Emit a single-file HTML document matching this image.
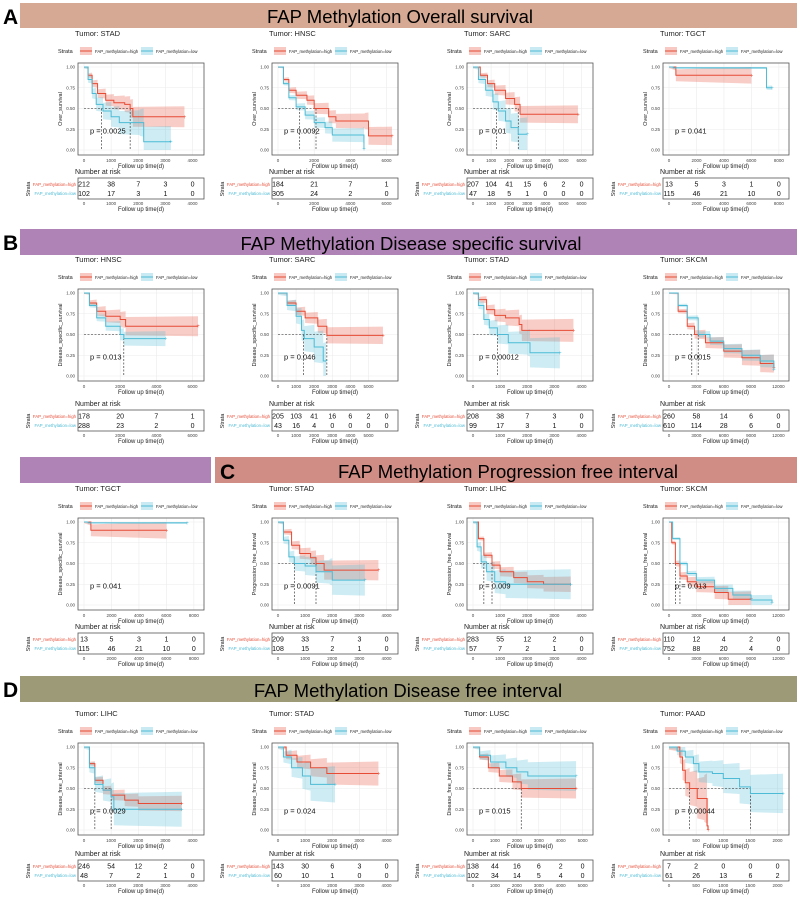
<!DOCTYPE html>
<html><head><meta charset="utf-8">
<style>
html,body{margin:0;padding:0;background:#fff;}
svg{display:block;font-family:"Liberation Sans",sans-serif;}
</style></head>
<body>
<div id="c"></div>
<script>
var R='#e64b35',B='#4dbbd5';
var X=[78,272,467,663],W=126,H=92;
var PT=[63,289,518,743],TT=[178,410,633,860];
var P=[
[0,0,'STAD','Over_survival',4200,[0,1000,2000,3000,4000],'0.0025',[650,1700],
 [[0,1],[150,.9],[300,.8],[500,.68],[800,.6],[1100,.57],[1500,.55],[1700,.5],[1800,.4],[3700,.4]],
 [[0,1],[150,.85],[300,.68],[450,.55],[700,.47],[1000,.4],[1300,.33],[2050,.33],[2200,.1],[3200,.1]],[.08,.12],
 [[212,38,7,3,0],[102,17,3,1,0]]],
[0,1,'HNSC','Over_survival',6300,[0,2000,4000,6000],'0.0092',[1200,2100],
 [[0,1],[300,.85],[600,.72],[1000,.66],[1600,.6],[2000,.5],[2800,.4],[3200,.35],[4800,.35],[5000,.17],[6300,.17]],
 [[0,1],[300,.8],[600,.63],[1000,.52],[1500,.42],[2000,.33],[2600,.27],[3000,.18],[4700,.18],[4750,.01]],[.07,.06],
 [[184,21,7,1],[305,24,2,0]]],
[0,2,'SARC','Over_survival',6300,[0,1000,2000,3000,4000,5000,6000],'0.01',[1300,2500],
 [[0,1],[400,.9],[800,.8],[1200,.72],[1800,.62],[2300,.55],[2600,.43],[5800,.43]],
 [[0,1],[300,.85],[700,.72],[1100,.58],[1400,.47],[1800,.35],[2100,.27],[2500,.19],[3000,.19]],[.07,.13],
 [[207,104,41,15,6,2,0],[47,18,5,1,0,0,0]]],
[0,3,'TGCT','Over_survival',8300,[0,2000,4000,6000,8000],'0.041',[],
 [[0,1],[500,.9],[6000,.9]],[[0,1],[300,.99],[7000,.99],[7100,.75],[7500,.75]],[.09,.02],
 [[13,5,3,1,0],[115,46,21,10,0]]],
[1,0,'HNSC','Disease_specific_survival',6300,[0,2000,4000,6000],'0.013',[2200],
 [[0,1],[300,.88],[700,.78],[1200,.72],[2000,.68],[2300,.6],[6300,.6]],
 [[0,1],[300,.85],[700,.7],[1200,.6],[2000,.5],[2200,.45],[4500,.45]],[.08,.06],
 [[178,20,7,1],[288,23,2,0]]],
[1,1,'SARC','Disease_specific_survival',6300,[0,1000,2000,3000,4000,5000],'0.046',[1400,2700],
 [[0,1],[500,.88],[1000,.78],[1500,.7],[2200,.6],[2700,.49],[5800,.49]],
 [[0,1],[500,.85],[1000,.72],[1300,.55],[1450,.45],[2000,.35],[2500,.18],[2650,.18]],[.07,.15],
 [[205,103,41,16,6,2,0],[43,16,4,0,0,0,0]]],
[1,2,'STAD','Disease_specific_survival',4200,[0,1000,2000,3000,4000],'0.00012',[900],
 [[0,1],[200,.92],[500,.8],[800,.73],[1200,.7],[1700,.62],[1800,.55],[3700,.55]],
 [[0,1],[200,.85],[400,.68],[600,.58],[900,.5],[1300,.4],[2000,.4],[2100,.28],[3200,.28]],[.09,.12],
 [[208,38,7,3,0],[99,17,3,1,0]]],
[1,3,'SKCM','Disease_specific_survival',12500,[0,3000,6000,9000,12000],'0.0015',[2500,3200],
 [[0,1],[1000,.78],[2000,.6],[2800,.5],[4000,.4],[6000,.3],[8000,.22],[10000,.15],[11500,.1]],
 [[0,1],[1000,.85],[2000,.7],[3200,.5],[4500,.42],[6000,.33],[8000,.25],[10000,.18],[11500,.08]],[.07,.05],
 [[260,58,14,6,0],[610,114,28,6,0]]],
[2,0,'TGCT','Disease_specific_survival',8300,[0,2000,4000,6000,8000],'0.041',[],
 [[0,1],[500,.9],[6000,.9]],[[0,1],[300,.99],[7500,.99]],[.09,.01],
 [[13,5,3,1,0],[115,46,21,10,0]]],
[2,1,'STAD','Progression_free_interval',4200,[0,1000,2000,3000,4000],'0.0091',[600,1400],
 [[0,1],[200,.88],[500,.72],[800,.62],[1200,.57],[1400,.5],[1700,.42],[3700,.42]],
 [[0,1],[200,.78],[400,.58],[600,.5],[1000,.47],[1400,.4],[1900,.4],[2000,.3],[3200,.3]],[.08,.12],
 [[209,33,7,3,0],[108,15,2,1,0]]],
[2,2,'LIHC','Progression_free_interval',4200,[0,1000,2000,3000,4000],'0.009',[400,700],
 [[0,1],[200,.8],[400,.6],[700,.48],[1000,.4],[1500,.33],[2000,.28],[2600,.25],[3600,.25]],
 [[0,1],[150,.7],[300,.52],[500,.4],[800,.28],[1200,.25],[3600,.25]],[.06,.12],
 [[283,55,12,2,0],[57,7,2,1,0]]],
[2,3,'SKCM','Progression_free_interval',12500,[0,3000,6000,9000,12000],'0.013',[700,1200],
 [[0,1],[300,.75],[700,.5],[1200,.35],[2000,.28],[3000,.22],[5000,.15],[6500,.07],[9000,.07]],
 [[0,1],[400,.8],[1200,.5],[2000,.38],[3000,.3],[5000,.2],[7000,.12],[9000,.06],[11300,.03]],[.06,.04],
 [[110,12,4,2,0],[752,88,20,4,0]]],
[3,0,'LIHC','Disease_free_interval',4200,[0,1000,2000,3000,4000],'0.0029',[400,1000],
 [[0,1],[200,.8],[400,.6],[700,.48],[1000,.42],[1500,.36],[2000,.32],[3600,.32]],
 [[0,1],[200,.75],[400,.55],[700,.48],[1000,.4],[1100,.25],[3600,.25]],[.06,.14],
 [[246,54,12,2,0],[48,7,2,1,0]]],
[3,1,'STAD','Disease_free_interval',4200,[0,1000,2000,3000,4000],'0.024',[],
 [[0,1],[300,.9],[700,.82],[1200,.75],[1800,.68],[3700,.68]],
 [[0,1],[200,.88],[500,.75],[900,.65],[1200,.55],[2100,.55]],[.1,.15],
 [[143,30,6,3,0],[60,10,1,0,0]]],
[3,2,'LUSC','Disease_free_interval',5200,[0,1000,2000,3000,4000,5000],'0.015',[2200],
 [[0,1],[300,.88],[700,.75],[1200,.65],[1800,.58],[2200,.5],[4700,.5]],
 [[0,1],[300,.9],[800,.82],[1500,.75],[2000,.7],[2500,.65],[4700,.65]],[.08,.12],
 [[138,44,16,6,2,0],[102,34,14,5,4,0]]],
[3,3,'PAAD','Disease_free_interval',2100,[0,500,1000,1500,2000],'0.00044',[380,1500],
 [[0,1],[200,.88],[250,.72],[300,.57],[380,.5],[520,.38],[650,.38],[700,.05],[720,0]],
 [[0,1],[150,.95],[300,.88],[450,.8],[550,.7],[800,.68],[1000,.62],[1300,.52],[1500,.44],[2100,.44]],[.22,.15],
 [[7,2,0,0,0],[61,26,13,6,2]]]
];
var out='<svg width="799" height="899" viewBox="0 0 799 899" xmlns="http://www.w3.org/2000/svg">';
out+='<rect x="20" y="3" width="777" height="25" fill="#d5a993"/><text x="3" y="24" font-size="21" font-weight="bold">A</text><text x="400" y="23" font-size="18.5" text-anchor="middle">FAP Methylation Overall  survival</text>';
out+='<rect x="20" y="229" width="777" height="26" fill="#b083b6"/><text x="3" y="250" font-size="21" font-weight="bold">B</text><text x="411" y="250" font-size="18.5" text-anchor="middle">FAP Methylation Disease specific  survival</text>';
out+='<rect x="20" y="457" width="191" height="26" fill="#b083b6"/><rect x="215" y="457" width="582" height="26" fill="#cf8d85"/><text x="220" y="479" font-size="21" font-weight="bold">C</text><text x="508" y="478" font-size="18.5" text-anchor="middle">FAP Methylation Progression free interval</text>';
out+='<rect x="20" y="676" width="777" height="26" fill="#9d9a77"/><text x="3" y="697" font-size="21" font-weight="bold">D</text><text x="408" y="697" font-size="18.5" text-anchor="middle">FAP Methylation Disease free interval</text>';
function fx(v){return (+v).toFixed(2);}
function stepPts(c){var s=[];for(var i=0;i<c.length;i++){if(i>0)s.push([c[i][0],c[i-1][1]]);s.push(c[i]);}return s;}
P.forEach(function(p){
 try{
 var r=p[0],x=X[p[1]],t=PT[r],tt=TT[r],xm=p[4];
 var pv=p[6],med=p[7],red=p[8],blue=p[9],bw=p[10],risk=p[11];
 var sx=function(v){return x+6+v*(W-12)/xm;};
 var sy=function(v){return t+4+(1-v)*(H-9);};
 out+='<text x="'+(x-3)+'" y="'+(t-27)+'" font-size="7.5" fill="#222">Tumor: '+p[2]+'</text>';
 out+='<text x="'+(x-20)+'" y="'+(t-10)+'" font-size="5.5" fill="#222">Strata</text>';
 out+='<rect x="'+(x+2)+'" y="'+(t-16)+'" width="12" height="8" fill="'+R+'" opacity="0.3"/><line x1="'+(x+2)+'" x2="'+(x+14)+'" y1="'+(t-12)+'" y2="'+(t-12)+'" stroke="'+R+'"/>';
 out+='<text x="'+(x+17)+'" y="'+(t-10)+'" font-size="4.3" fill="#222">FAP_methylation=high</text>';
 out+='<rect x="'+(x+63)+'" y="'+(t-16)+'" width="12" height="8" fill="'+B+'" opacity="0.3"/><line x1="'+(x+63)+'" x2="'+(x+75)+'" y1="'+(t-12)+'" y2="'+(t-12)+'" stroke="'+B+'"/>';
 out+='<text x="'+(x+78)+'" y="'+(t-10)+'" font-size="4.3" fill="#222">FAP_methylation=low</text>';
 out+='<rect x="'+x+'" y="'+t+'" width="'+W+'" height="'+H+'" fill="#fff"/>';
 [0,.25,.5,.75,1].forEach(function(v){out+='<line x1="'+x+'" x2="'+(x+W)+'" y1="'+fx(sy(v))+'" y2="'+fx(sy(v))+'" stroke="#ebebeb" stroke-width="0.6"/>';
  out+='<text x="'+(x-3)+'" y="'+fx(sy(v)+1.5)+'" font-size="4.5" text-anchor="end" fill="#444">'+v.toFixed(2)+'</text>';});
 p[5].forEach(function(v){out+='<line y1="'+t+'" y2="'+(t+H)+'" x1="'+fx(sx(v))+'" x2="'+fx(sx(v))+'" stroke="#ebebeb" stroke-width="0.6"/>';
  out+='<text y="'+(t+H+7)+'" x="'+fx(sx(v))+'" font-size="4.5" text-anchor="middle" fill="#444">'+v+'</text>';});
 out+='<text transform="translate('+(x-16)+','+(t+H/2)+') rotate(-90)" font-size="5.5" text-anchor="middle" fill="#222">'+p[3]+'</text>';
 out+='<text x="'+(x+W/2)+'" y="'+(t+H+13)+'" font-size="6" text-anchor="middle" fill="#222">Follow up time(d)</text>';
 [[red,R,bw[0]],[blue,B,bw[1]]].forEach(function(c){
  var s=stepPts(c[0]),up=[],lo=[];
  s.forEach(function(q,i){var w=c[2]*(1.6*i/s.length+0.15);up.push(fx(sx(q[0]))+','+fx(sy(Math.min(1,q[1]+w))));lo.unshift(fx(sx(q[0]))+','+fx(sy(Math.max(0,q[1]-w))));});
  out+='<polygon points="'+up.concat(lo).join(' ')+'" fill="'+c[1]+'" opacity="0.28"/>';
 });
 if(med.length){var mx=sx(med[med.length-1]);
  out+='<line x1="'+fx(sx(0))+'" x2="'+fx(mx)+'" y1="'+fx(sy(.5))+'" y2="'+fx(sy(.5))+'" stroke="#222" stroke-width="0.6" stroke-dasharray="2,1.5"/>';
  med.forEach(function(m){out+='<line x1="'+fx(sx(m))+'" x2="'+fx(sx(m))+'" y1="'+fx(sy(.5))+'" y2="'+fx(sy(0))+'" stroke="#222" stroke-width="0.6" stroke-dasharray="2,1.5"/>';});}
 [[red,R],[blue,B]].forEach(function(c){
  var s=stepPts(c[0]);out+='<polyline fill="none" stroke="'+c[1]+'" stroke-width="1" points="'+s.map(function(q){return fx(sx(q[0]))+','+fx(sy(q[1]));}).join(' ')+'"/>';
  var l=c[0][c[0].length-1];out+='<text x="'+fx(sx(l[0]))+'" y="'+fx(sy(l[1])+2)+'" font-size="6" text-anchor="middle" fill="'+c[1]+'">+</text>';
 });
 out+='<text x="'+(x+12)+'" y="'+fx(sy(.2))+'" font-size="7.5" fill="#111">p = '+pv+'</text>';
 out+='<rect x="'+x+'" y="'+t+'" width="'+W+'" height="'+H+'" fill="none" stroke="#555" stroke-width="0.8"/>';
 out+='<text x="'+(x-3)+'" y="'+(tt-4)+'" font-size="7" fill="#222">Number at risk</text>';
 out+='<rect x="'+x+'" y="'+tt+'" width="'+W+'" height="21" fill="#fff" stroke="#555" stroke-width="0.8"/>';
 var n=risk[0].length;
 for(var i=0;i<n;i++){var tv=(p[5].length===n)?p[5][i]:i*1000;var cx=sx(tv);
  out+='<text x="'+fx(cx)+'" y="'+(tt+8.5)+'" font-size="7" text-anchor="middle" fill="#111">'+risk[0][i]+'</text>';
  out+='<text x="'+fx(cx)+'" y="'+(tt+18)+'" font-size="7" text-anchor="middle" fill="#111">'+risk[1][i]+'</text>';}
 p[5].forEach(function(v){out+='<text y="'+(tt+27)+'" x="'+fx(sx(v))+'" font-size="4.5" text-anchor="middle" fill="#444">'+v+'</text>';});
 out+='<text x="'+(x+W/2)+'" y="'+(tt+33)+'" font-size="6" text-anchor="middle" fill="#222">Follow up time(d)</text>';
 out+='<text x="'+(x-2)+'" y="'+(tt+8)+'" font-size="4.3" text-anchor="end" fill="'+R+'">FAP_methylation=high</text>';
 out+='<text x="'+(x-2)+'" y="'+(tt+17)+'" font-size="4.3" text-anchor="end" fill="'+B+'">FAP_methylation=low</text>';
 out+='<text transform="translate('+(x-48)+','+(tt+11)+') rotate(-90)" font-size="5.5" text-anchor="middle" fill="#222">Strata</text>';
 }catch(e){}
});
out+='</svg>';
document.getElementById('c').innerHTML=out;
</script>
</body></html>
